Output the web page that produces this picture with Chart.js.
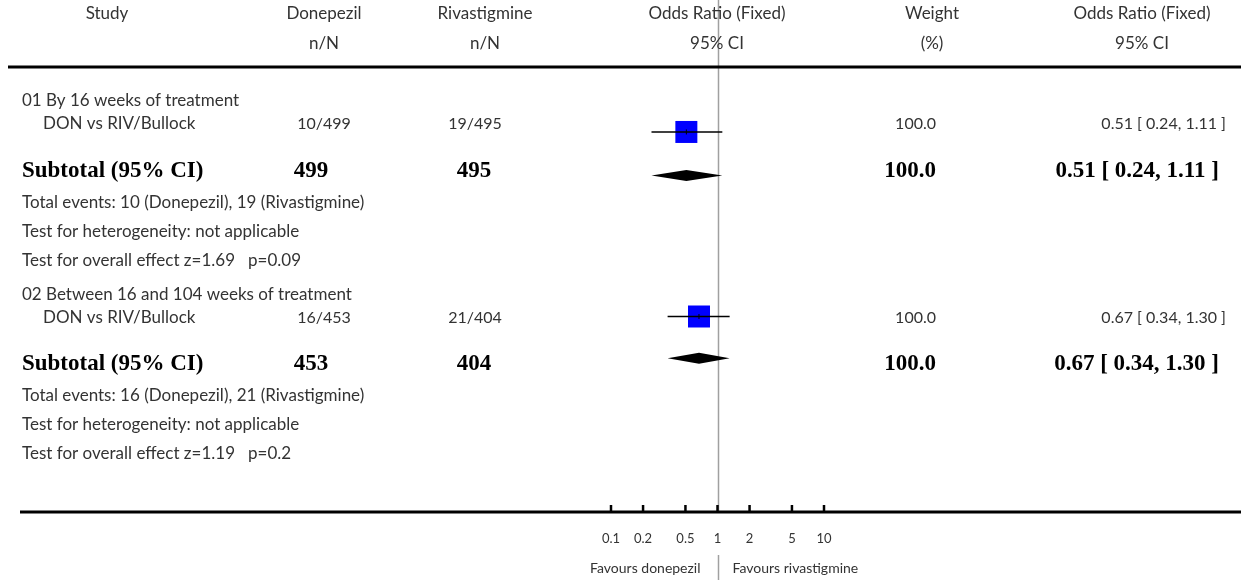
<!DOCTYPE html>
<html><head><meta charset="utf-8">
<script src="https://cdn.jsdelivr.net/npm/chart.js@4/dist/chart.umd.min.js"></script>
<style>html,body{margin:0;padding:0;background:#fff;} #wrap{width:1241px;height:580px;position:relative;}</style>
</head><body><div id="wrap"><canvas id="c" width="1241" height="580"></canvas></div>
<script>
// ---------------- data ----------------
const groupLabels = ["01 By 16 weeks of treatment", "02 Between 16 and 104 weeks of treatment"];
const studyNames = ["DON vs RIV/Bullock", "DON vs RIV/Bullock"];
const donEvents = [10, 16];
const donTotals = [499, 453];
const rivEvents = [19, 21];
const rivTotals = [495, 404];
const studyOR = [0.51, 0.67];
const studyLow = [0.24, 0.34];
const studyHigh = [1.11, 1.30];
const studyWeight = [100.0, 100.0];
const subOR = [0.51, 0.67];
const subLow = [0.24, 0.34];
const subHigh = [1.11, 1.30];
const subWeight = [100.0, 100.0];
const hetText = ["not applicable", "not applicable"];
const zValues = ["1.69", "1.19"];
const pValues = ["0.09", "0.2"];
const tickValues = [0.1, 0.2, 0.5, 1, 2, 5, 10];
const tickLabels = ["0.1", "0.2", "0.5", "1", "2", "5", "10"];
const favoursLeft = "Favours donepezil";
const favoursRight = "Favours rivastigmine";
const headers1 = ["Study", "Donepezil", "Rivastigmine", "Odds Ratio (Fixed)", "Weight", "Odds Ratio (Fixed)"];
const headers2 = ["", "n/N", "n/N", "95% CI", "(%)", "95% CI"];

// ---------------- layout ----------------
const W = 1241, H = 580;
const rows = [
  {label:101, study:124, mark:123, sub:171, diamond:169, events:203, het:232, overall:261},
  {label:295, study:318, mark:318, sub:364, diamond:362, events:396, het:425, overall:454}
];
const colHeaderX = [107, 324, 485, 717, 932, 1142];
const X = {left:22, study:43, don:324, donB:311, riv:475, rivB:474, weightR:936, orR:1226, orRB:1219};
const headY1 = 14, headY2 = 44, topLineY = 67, axisY = 512, tickLabelY = 539, favY = 568;
const textFont = '17px Lato';
const numFont = '16px Lato';
const boldFont = 'bold 23px "Liberation Serif"';
const textColor = '#333';

function fmt(v){ return v.toFixed(2); }
function ciText(o,l,h){ return fmt(o) + ' [ ' + fmt(l) + ', ' + fmt(h) + ' ]'; }

const forest = {
  id: 'forest',
  beforeDatasetsDraw(chart){
    const ctx = chart.ctx, xs = chart.scales.x;
    const x1 = Math.round(xs.getPixelForValue(1)) + 0.5;
    ctx.save();
    ctx.strokeStyle = '#a0a0a0'; ctx.lineWidth = 1.5;
    ctx.beginPath(); ctx.moveTo(x1, 0); ctx.lineTo(x1, axisY); ctx.stroke();
    ctx.beginPath(); ctx.moveTo(x1, 555); ctx.lineTo(x1, H); ctx.stroke();
    ctx.restore();
  },
  afterDatasetsDraw(chart){
    const ctx = chart.ctx, xs = chart.scales.x, ys = chart.scales.y;
    ctx.save();
    for (let i = 0; i < studyOR.length; i++){
      const y = ys.getPixelForValue(rows[i].mark);
      const xl = xs.getPixelForValue(studyLow[i]), xh = xs.getPixelForValue(studyHigh[i]);
      const xc = xs.getPixelForValue(studyOR[i]);
      ctx.strokeStyle = '#000'; ctx.lineWidth = 1.5;
      ctx.beginPath(); ctx.moveTo(xl, y); ctx.lineTo(xh, y); ctx.stroke();
      ctx.lineWidth = 1;
      ctx.beginPath(); ctx.moveTo(xc, y - 2.5); ctx.lineTo(xc, y + 2.5); ctx.stroke();
    }
    for (let i = 0; i < subOR.length; i++){
      const y = ys.getPixelForValue(rows[i].diamond);
      const xl = xs.getPixelForValue(subLow[i]), xh = xs.getPixelForValue(subHigh[i]);
      const xc = xs.getPixelForValue(subOR[i]);
      ctx.fillStyle = '#000';
      ctx.beginPath();
      ctx.moveTo(xl, y); ctx.lineTo(xc, y - 5.5); ctx.lineTo(xh, y); ctx.lineTo(xc, y + 5.5);
      ctx.closePath(); ctx.fill();
    }
    ctx.strokeStyle = '#000'; ctx.lineWidth = 3;
    ctx.beginPath(); ctx.moveTo(20, axisY); ctx.lineTo(W, axisY); ctx.stroke();
    ctx.lineWidth = 2.5;
    ctx.font = '13px Lato'; ctx.fillStyle = textColor; ctx.textAlign = 'center'; ctx.textBaseline = 'middle';
    tickValues.forEach((t, k) => {
      const x = xs.getPixelForValue(t);
      ctx.beginPath(); ctx.moveTo(x, axisY - 7); ctx.lineTo(x, axisY); ctx.stroke();
      ctx.fillText(tickLabels[k], x, tickLabelY);
    });
    const x1 = xs.getPixelForValue(1);
    ctx.font = '14px Lato';
    ctx.textAlign = 'right'; ctx.fillText(favoursLeft, x1 - 17, favY);
    ctx.textAlign = 'left'; ctx.fillText(favoursRight, x1 + 15, favY);
    ctx.restore();
  },
  afterDraw(chart){
    const ctx = chart.ctx;
    ctx.save();
    ctx.textBaseline = 'middle';
    ctx.font = textFont; ctx.fillStyle = textColor; ctx.textAlign = 'center';
    headers1.forEach((h, k) => ctx.fillText(h, colHeaderX[k], headY1));
    headers2.forEach((h, k) => { if (h) ctx.fillText(h, colHeaderX[k], headY2); });
    ctx.strokeStyle = '#000'; ctx.lineWidth = 3;
    ctx.beginPath(); ctx.moveTo(8, topLineY); ctx.lineTo(W, topLineY); ctx.stroke();

    for (let i = 0; i < groupLabels.length; i++){
      const r = rows[i];
      ctx.font = textFont; ctx.fillStyle = textColor;
      ctx.textAlign = 'left';
      ctx.fillText(groupLabels[i], X.left, r.label);
      ctx.fillText(studyNames[i], X.study, r.study);
      ctx.font = numFont;
      ctx.textAlign = 'center';
      ctx.fillText(donEvents[i] + '/' + donTotals[i], X.don, r.study);
      ctx.fillText(rivEvents[i] + '/' + rivTotals[i], X.riv, r.study);
      ctx.textAlign = 'right';
      ctx.fillText(studyWeight[i].toFixed(1), X.weightR, r.study);
      ctx.fillText(ciText(studyOR[i], studyLow[i], studyHigh[i]), X.orR, r.study);

      ctx.font = boldFont; ctx.fillStyle = '#000';
      ctx.textAlign = 'left';
      ctx.fillText('Subtotal (95% CI)', X.left, r.sub);
      ctx.textAlign = 'center';
      ctx.fillText(String(donTotals[i]), X.donB, r.sub);
      ctx.fillText(String(rivTotals[i]), X.rivB, r.sub);
      ctx.textAlign = 'right';
      ctx.fillText(subWeight[i].toFixed(1), X.weightR, r.sub);
      ctx.fillText(ciText(subOR[i], subLow[i], subHigh[i]), X.orRB, r.sub);

      ctx.font = textFont; ctx.fillStyle = textColor; ctx.textAlign = 'left';
      ctx.fillText('Total events: ' + donEvents[i] + ' (Donepezil), ' + rivEvents[i] + ' (Rivastigmine)', X.left, r.events);
      ctx.fillText('Test for heterogeneity: ' + hetText[i], X.left, r.het);
      ctx.fillText('Test for overall effect z=' + zValues[i] + '   p=' + pValues[i], X.left, r.overall);
    }
    ctx.restore();
  }
};

const squareSide = 22;
new Chart(document.getElementById('c').getContext('2d'), {
  type: 'scatter',
  data: { datasets: [{
    data: studyOR.map((v, i) => ({x: v, y: rows[i].mark})),
    pointStyle: 'rect',
    pointRadius: studyWeight.map(w => Math.sqrt(w / 100) * squareSide / (2 * Math.SQRT1_2)),
    pointHoverRadius: studyWeight.map(w => Math.sqrt(w / 100) * squareSide / (2 * Math.SQRT1_2)),
    backgroundColor: '#0000ff', borderWidth: 0, clip: false
  }]},
  options: {
    responsive: false, animation: false, events: [],
    layout: { padding: { left: 611, right: 417, top: 0, bottom: 0 } },
    scales: {
      x: { type: 'logarithmic', min: 0.1, max: 10, display: false },
      y: { type: 'linear', min: 0, max: 580, reverse: true, display: false }
    },
    plugins: { legend: { display: false }, tooltip: { enabled: false } }
  },
  plugins: [forest]
});
</script></body></html>
